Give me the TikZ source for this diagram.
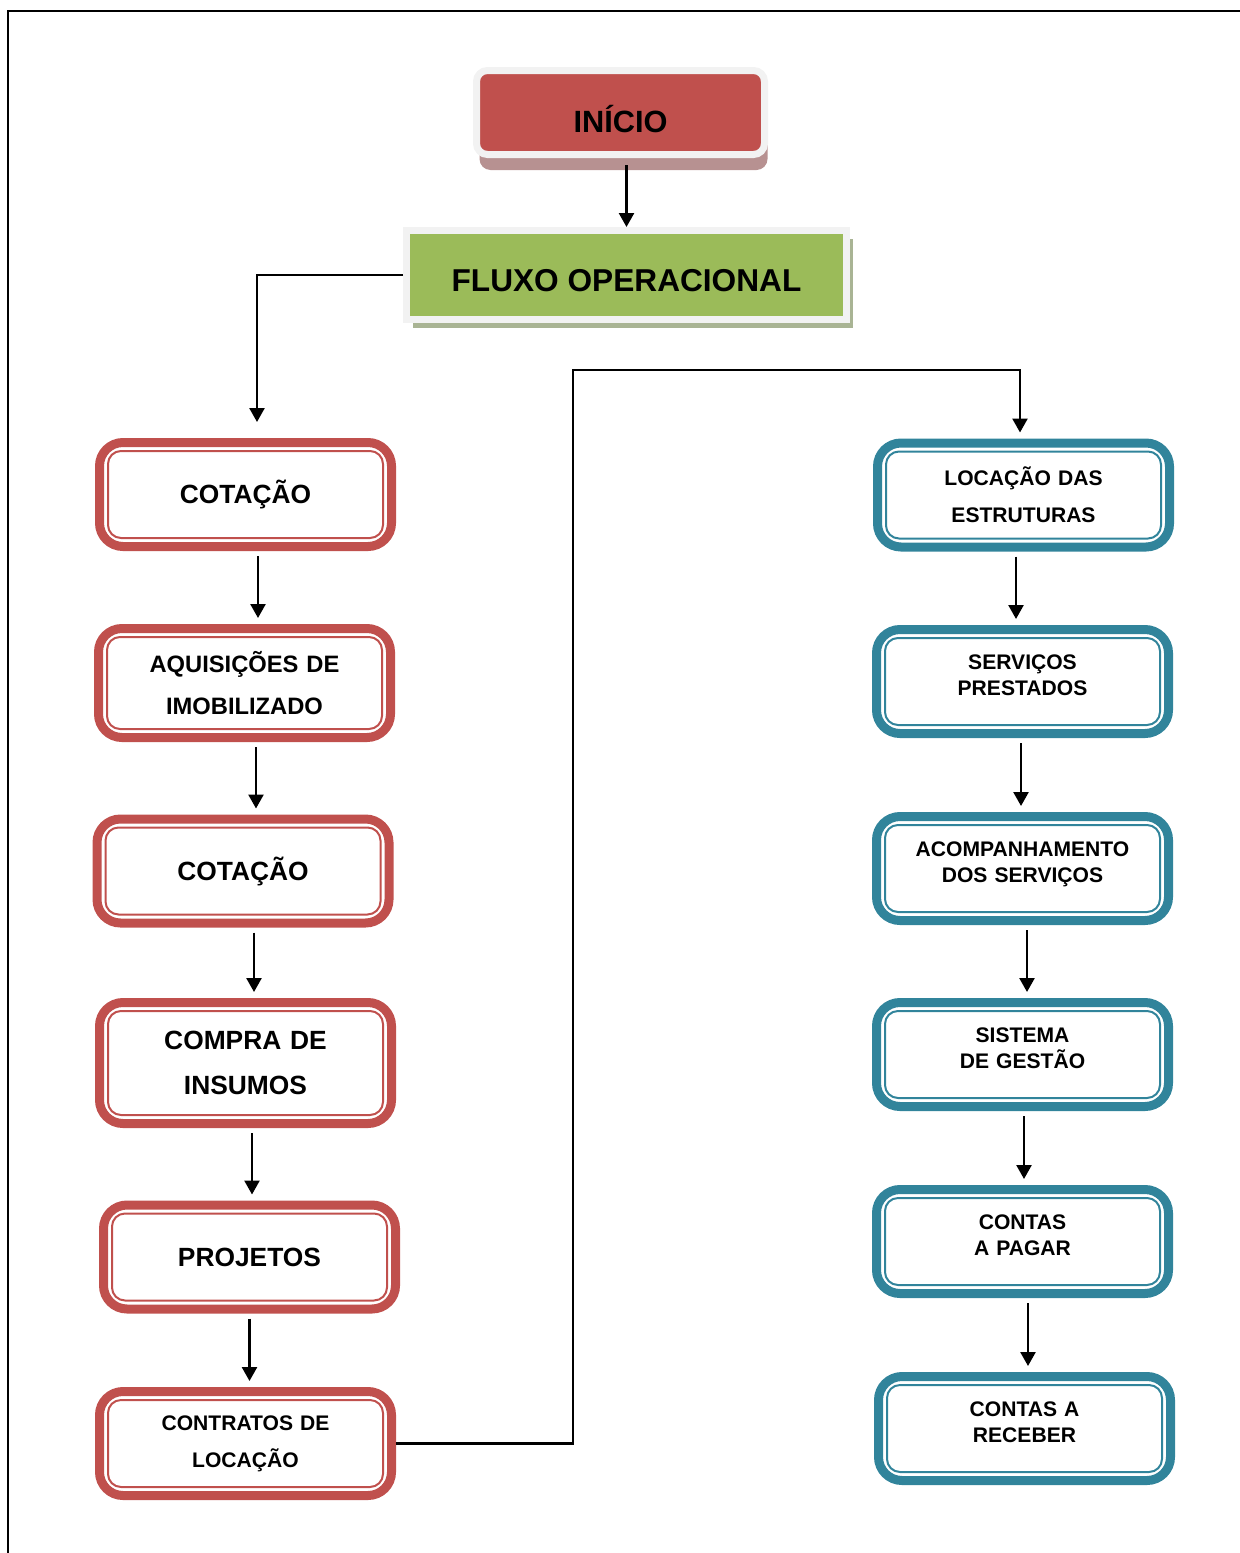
\documentclass[tikz,border=0pt]{standalone}
\usepackage{fontspec}
\setmainfont{Liberation Sans}
\usetikzlibrary{arrows.meta,shadows}
\definecolor{vermelho}{HTML}{C0504D}
\definecolor{verde}{HTML}{9BBB59}
\definecolor{azul}{HTML}{31849B}
\definecolor{moldura}{HTML}{F2F2F2}
\definecolor{sombraverm}{HTML}{B79191}
\definecolor{sombraverde}{HTML}{A9B494}

\begin{document}
\begin{tikzpicture}[
    caixa/.style={draw=#1, line width=0.18cm, rounded corners=0.47cm,
      minimum width=5.84cm, minimum height=2.08cm, inner sep=0pt,
      text width=5.6cm, align=center,
      path picture={\draw[#1, line width=0.04cm, rounded corners=0.26cm]
        ([shift={(0.17,0.17)}]path picture bounding box.south west) rectangle
        ([shift={(-0.17,-0.17)}]path picture bounding box.north east);}},
    esq/.style={caixa=vermelho},
    dir/.style={caixa=azul, font=\fontsize{12}{14.7}\selectfont\bfseries},
    acima/.style={text depth=21.5pt},
    inicio/.style={fill=vermelho, draw=moldura, line width=0.14cm, rounded corners=0.22cm,
      minimum width=5.76cm, minimum height=1.68cm, inner sep=0pt, text height=23pt,
      drop shadow={shadow xshift=0.06cm, shadow yshift=-0.31cm, fill=sombraverm, opacity=1},
      font=\fontsize{17.5}{20}\selectfont\bfseries},
    fluxo/.style={fill=verde, draw=moldura, line width=0.14cm,
      minimum width=8.8cm, minimum height=1.78cm, inner sep=0pt, text height=18.5pt,
      drop shadow={shadow xshift=0.13cm, shadow yshift=-0.17cm, fill=sombraverde, opacity=1},
      font=\fontsize{18}{20}\selectfont\bfseries},
    seta/.style={-{Triangle[length=0.28cm,width=0.3cm]}, line width=0.05cm},
    passo/.style={seta, shorten <=0.1cm, shorten >=0.12cm}
  ]
    \useasboundingbox (0,0) rectangle (24.8,-31.06);
    % moldura da figura
    \draw[line width=0.04cm] (0.16,-31.06) -- (0.16,-0.22) -- (24.8,-0.22);

    \node[inicio] (inicio) at (12.41,-2.25) {INÍCIO};
    \node[fluxo] (fluxo) at (12.53,-5.50) {FLUXO OPERACIONAL};

    % coluna da esquerda
    \node[esq, font=\fontsize{15}{18}\selectfont\bfseries] (cot1) at (4.91,-9.89) {COTAÇÃO};
    \node[esq, minimum height=2.18cm, font=\fontsize{13.5}{23.8}\selectfont\bfseries] (aquis) at (4.89,-13.66) {AQUISIÇÕES DE\\IMOBILIZADO};
    \node[esq, font=\fontsize{15}{18}\selectfont\bfseries] (cot2) at (4.86,-17.42) {COTAÇÃO};
    \node[esq, minimum height=2.42cm, font=\fontsize{15}{25.5}\selectfont\bfseries] (compra) at (4.91,-21.26) {COMPRA DE\\INSUMOS};
    \node[esq, font=\fontsize{15}{18}\selectfont\bfseries] (proj) at (4.99,-25.14) {PROJETOS};
    \node[esq, font=\fontsize{12}{21}\selectfont\bfseries] (contr) at (4.91,-28.87) {CONTRATOS DE\\LOCAÇÃO};

    % coluna da direita
    \node[dir, font=\fontsize{12}{21}\selectfont\bfseries] (locac) at (20.47,-9.90) {LOCAÇÃO DAS\\ESTRUTURAS};
    \node[dir, acima] (serv) at (20.45,-13.63) {SERVIÇOS\\PRESTADOS};
    \node[dir, acima] (acomp) at (20.45,-17.37) {ACOMPANHAMENTO\\DOS SERVIÇOS};
    \node[dir, acima] (sist) at (20.45,-21.09) {SISTEMA\\DE GESTÃO};
    \node[dir, acima] (pagar) at (20.45,-24.83) {CONTAS\\A PAGAR};
    \node[dir, acima] (receber) at (20.49,-28.57) {CONTAS A\\RECEBER};

    % ligacoes
    \draw[seta, shorten <=0.14cm] (inicio.south -| fluxo.north) -- (fluxo.north);
    \draw[seta, shorten >=0.32cm] (fluxo.west) -| ([xshift=0.23cm]cot1.north);

    \draw[passo] ([xshift=0.25cm]cot1.south) -- ([xshift=0.25cm]cot1.south |- aquis.north);
    \draw[passo] ([xshift=0.23cm]aquis.south) -- ([xshift=0.23cm]aquis.south |- cot2.north);
    \draw[passo] ([xshift=0.22cm]cot2.south) -- ([xshift=0.22cm]cot2.south |- compra.north);
    \draw[passo] ([xshift=0.13cm]compra.south) -- ([xshift=0.13cm]compra.south |- proj.north);
    \draw[passo] (proj.south) -- (proj.south |- contr.north);

    \coordinate (dobra) at (11.46,-7.4);
    \draw[seta, shorten >=0.12cm] (contr.east) -| (dobra) -| ([xshift=-0.07cm]locac.north);

    \draw[passo] ([xshift=-0.15cm]locac.south) -- ([xshift=-0.15cm]locac.south |- serv.north);
    \draw[passo] ([xshift=-0.03cm]serv.south) -- ([xshift=-0.03cm]serv.south |- acomp.north);
    \draw[passo] ([xshift=0.09cm]acomp.south) -- ([xshift=0.09cm]acomp.south |- sist.north);
    \draw[passo] ([xshift=0.03cm]sist.south) -- ([xshift=0.03cm]sist.south |- pagar.north);
    \draw[passo] ([xshift=0.11cm]pagar.south) -- ([xshift=0.11cm]pagar.south |- receber.north);
\end{tikzpicture}
\end{document}
